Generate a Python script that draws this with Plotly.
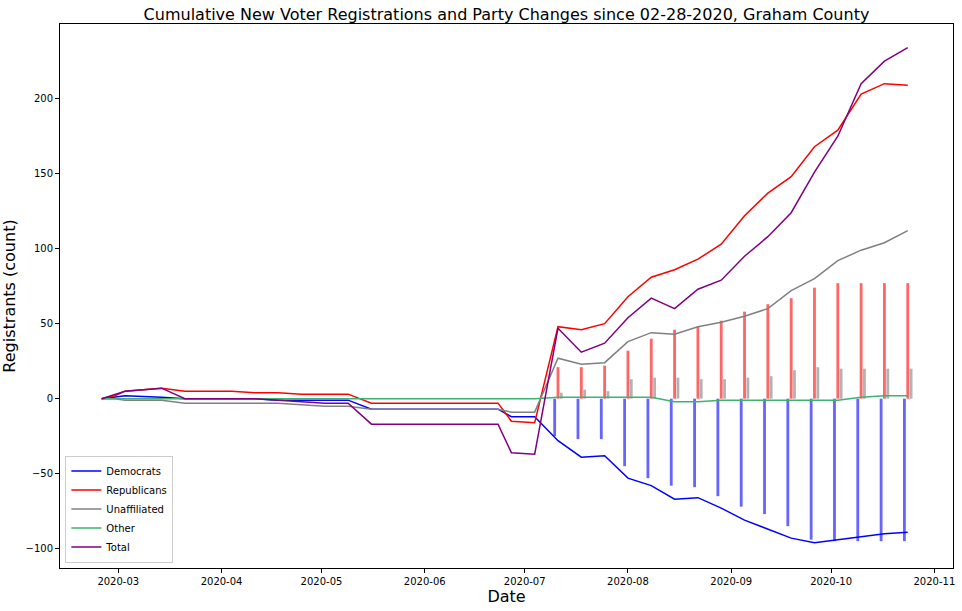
import plotly.graph_objects as go

# ---- data ----
dates = ["2020-02-25", "2020-02-29", "2020-03-03", "2020-03-14", "2020-03-21",
         "2020-03-28", "2020-04-04", "2020-04-11", "2020-04-18", "2020-04-25",
         "2020-05-02", "2020-05-09", "2020-05-16", "2020-06-23", "2020-06-27",
         "2020-07-04", "2020-07-11", "2020-07-18", "2020-07-25", "2020-08-01",
         "2020-08-08", "2020-08-15", "2020-08-22", "2020-08-29", "2020-09-05",
         "2020-09-12", "2020-09-19", "2020-09-26", "2020-10-03", "2020-10-10",
         "2020-10-17", "2020-10-24"]

democrats = [0, 1, 2, 1, 0, 0, 0, 0, -1, -1, -1, -1, -7, -7, -12, -12,
             -28, -39, -38, -53, -58, -67, -66, -73, -81, -87, -93, -96, -94, -92, -90, -89]
republicans = [0, 2, 5, 7, 5, 5, 5, 4, 4, 3, 3, 3, -3, -3, -15, -16,
               48, 46, 50, 68, 81, 86, 93, 103, 122, 137, 148, 168, 179, 203, 210, 209]
unaffiliated = [0, 0, -1, -1, -3, -3, -3, -3, -3, -4, -5, -5, -7, -7, -9, -9,
                27, 23, 24, 38, 44, 43, 48, 51, 55, 60, 72, 80, 92, 99, 104, 112]
other = [0, 0, 0, 0, 0, 0, 0, 0, 0, 0, 0, 0, 0, 0, 0, 0,
         1, 1, 1, 1, 1, -2, -2, -1, -1, -1, -1, -1, -1, 1, 2, 2]
total = [0, 3, 5, 7, 0, 0, 0, 0, -1, -2, -3, -3, -17, -17, -36, -37,
         47, 31, 37, 54, 67, 60, 73, 79, 95, 108, 124, 151, 175, 210, 225, 234]

# party-change bars (weekly, from 2020-07-11)
bar_dates = ["2020-07-11", "2020-07-18", "2020-07-25", "2020-08-01", "2020-08-08",
             "2020-08-15", "2020-08-22", "2020-08-29", "2020-09-05", "2020-09-12",
             "2020-09-19", "2020-09-26", "2020-10-03", "2020-10-10", "2020-10-17",
             "2020-10-24"]
dem_changes = [-25, -27, -27, -45, -53, -58, -59, -65, -72, -77, -85, -94, -95, -95, -95, -95]
rep_changes = [21, 21, 22, 32, 40, 46, 48, 52, 58, 63, 67, 74, 77, 77, 77, 77]
unaf_changes = [4, 6, 5, 13, 14, 14, 13, 13, 14, 15, 19, 21, 20, 20, 20, 20]

title = "Cumulative New Voter Registrations and Party Changes since 02-28-2020, Graham County"

DAY = 86400000.0
FONT = "DejaVu Sans"

fig = go.Figure()

bw = 0.85 * DAY
for vals, col, off in [(dem_changes, "blue", -1.0), (rep_changes, "red", 0.0),
                       (unaf_changes, "gray", 1.0)]:
    fig.add_trace(go.Bar(x=bar_dates, y=vals, marker=dict(color=col, opacity=0.6, line=dict(width=0)),
                         width=bw, offset=off * DAY - bw / 2, showlegend=False,
                         hoverinfo="skip"))

series = [("Democrats", democrats, "blue"), ("Republicans", republicans, "red"),
          ("Unaffiliated", unaffiliated, "gray"), ("Other", other, "mediumseagreen"),
          ("Total", total, "purple")]
for name, vals, col in series:
    fig.add_trace(go.Scatter(x=dates, y=vals, mode="lines", name=name,
                             line=dict(color=col, width=1.5)))

axis_common = dict(showline=True, linecolor="black", linewidth=1, mirror=True,
                   ticks="outside", ticklen=4, tickwidth=1, tickcolor="black",
                   showgrid=False, zeroline=False, automargin=False,
                   tickfont=dict(family=FONT, size=10, color="black"))

fig.update_layout(
    width=962, height=611,
    margin=dict(l=60, r=9, t=24, b=43, autoexpand=False),
    paper_bgcolor="white", plot_bgcolor="white",
    barmode="overlay",
    font=dict(family=FONT, color="black"),
    title=dict(text=title, x=0.5265, xanchor="center", y=1 - 14 / 611, yanchor="middle",
               yref="container", font=dict(family=FONT, size=16, color="black")),
    xaxis=dict(range=["2020-02-12 12:00", "2020-11-06 14:00"], type="date",
               dtick="M1", tick0="2020-03-01", tickformat="%Y-%m",
               title=dict(text="Date", standoff=4, font=dict(family=FONT, size=16, color="black")),
               **axis_common),
    yaxis=dict(range=[-112.9, 249.8], tickvals=[-100, -50, 0, 50, 100, 150, 200],
               title=dict(text="Registrants (count)", standoff=6,
                          font=dict(family=FONT, size=16, color="black")),
               **axis_common),
    legend=dict(x=0.006, y=0.01, xanchor="left", yanchor="bottom",
                bgcolor="rgba(255,255,255,0.8)", bordercolor="#cccccc", borderwidth=1,
                font=dict(family=FONT, size=10, color="black"), tracegroupgap=0,
                itemwidth=30),
)

fig.write_html("out.html", config={"displayModeBar": False},
               post_script="document.body.style.margin='0';document.body.style.overflow='hidden';")
